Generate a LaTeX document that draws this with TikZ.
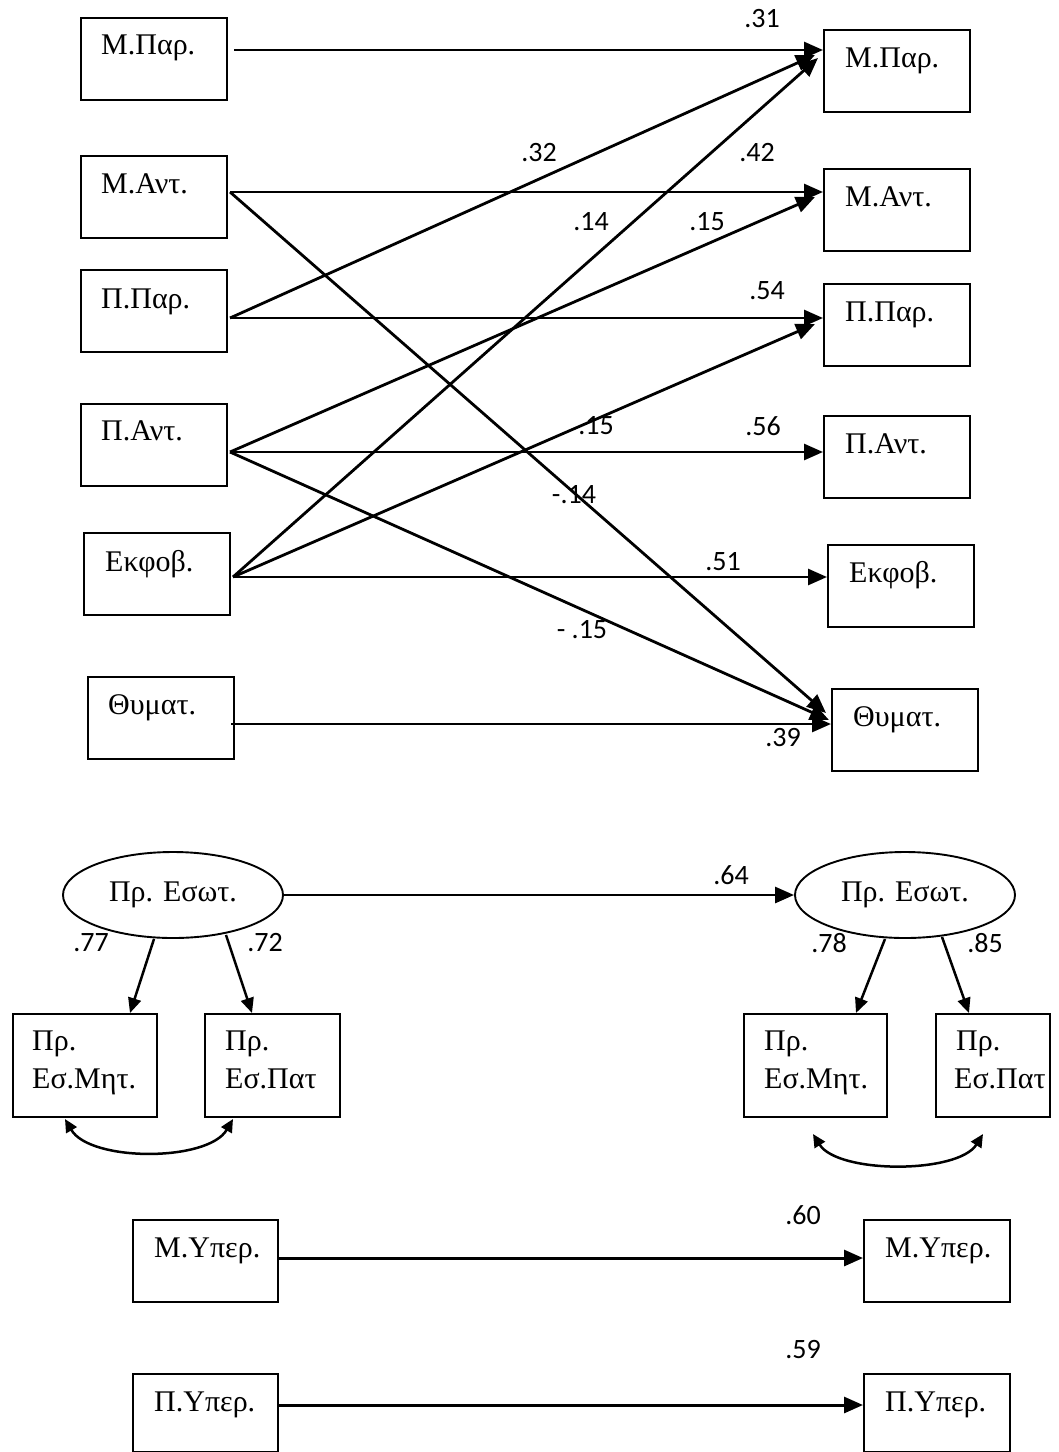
\documentclass[tikz,border=0pt]{standalone}
\usepackage{fontspec}
\setmainfont{Liberation Serif}
\newfontfamily\coeffont{Carlito}
\usetikzlibrary{arrows.meta,calc,shapes.geometric}
\begin{document}
\begin{tikzpicture}[x=1pt,y=-1pt,
  box/.style={draw, line width=2pt, inner sep=0pt, anchor=north west,
              minimum width=146pt, minimum height=82pt},
  tallbox/.style={box, minimum height=103pt},
  txt/.style={inner sep=0pt, anchor=base west, font=\fontsize{30}{35}\selectfont},
  coef/.style={inner sep=0pt, font=\coeffont\fontsize{28}{32}\selectfont},
  oval/.style={draw, ellipse, line width=1.9pt, inner sep=0pt,
               minimum width=220pt, minimum height=86pt,
               font=\fontsize{30}{35}\selectfont},
  link/.style={line width=2.8pt, -{Triangle[length=19pt,width=16pt]}},
  load/.style={line width=2.5pt, -{Triangle[length=15pt,width=13pt]}},
  covar/.style={line width=2.5pt,
                {Triangle[length=13pt,width=12pt]}-{Triangle[length=13pt,width=12pt]}}
]
\useasboundingbox (0,0) rectangle (1059,1452);
\fill[white] (0,0) rectangle (1059,1452);

% ---------- cross-lagged model: first wave (left) ----------
\node[box] (l1) at (80,17)  {};
\node[box] (l2) at (80,155) {};
\node[box] (l3) at (80,269) {};
\node[box] (l4) at (80,403) {};
\node[box] (l5) at (83,532) {};
\node[box] (l6) at (87,676) {};
\node[txt] (l1t) at ($(l1.north west)+(21,37)$) {Μ.Παρ.};
\node[txt] (l2t) at ($(l2.north west)+(21,38)$) {Μ.Αντ.};
\node[txt] (l3t) at ($(l3.north west)+(21,39)$) {Π.Παρ.};
\node[txt] (l4t) at ($(l4.north west)+(21,37)$) {Π.Αντ.};
\node[txt] (l5t) at ($(l5.north west)+(22,39)$) {Εκφοβ.};
\node[txt] (l6t) at ($(l6.north west)+(21,38)$) {Θυματ.};

% ---------- second wave (right) ----------
\node[box] (r1) at (823,29)  {};
\node[box] (r2) at (823,168) {};
\node[box] (r3) at (823,283) {};
\node[box] (r4) at (823,415) {};
\node[box] (r5) at (827,544) {};
\node[box] (r6) at (831,688) {};
\node[txt] (r1t) at ($(r1.north west)+(22,38)$) {Μ.Παρ.};
\node[txt] (r2t) at ($(r2.north west)+(22,38)$) {Μ.Αντ.};
\node[txt] (r3t) at ($(r3.north west)+(22,38)$) {Π.Παρ.};
\node[txt] (r4t) at ($(r4.north west)+(22,38)$) {Π.Αντ.};
\node[txt] (r5t) at ($(r5.north west)+(22,38)$) {Εκφοβ.};
\node[txt] (r6t) at ($(r6.north west)+(22,38)$) {Θυματ.};

% stability paths
\draw[link] ($(l1.north east)+(6,33)$)  -- ($(r1.north west)+(0,21)$);
\draw[link] ($(l2.north east)+(2,37)$)  -- ($(r2.north west)+(0,24)$);
\draw[link] ($(l3.north east)+(2,49)$)  -- ($(r3.north west)+(0,35)$);
\draw[link] ($(l4.north east)+(2,49)$)  -- ($(r4.north west)+(0,37)$);
\draw[link] ($(l5.north east)+(2,45)$)  -- ($(r5.north west)+(0,33)$);
\draw[link] ($(l6.north east)+(-4,48)$) -- ($(r6.north west)+(0,36)$);

% cross-lagged paths
\draw[link] ($(l3.north east)+(2,49)$) -- ($(r1.north west)+(-8,26)$);
\draw[link] ($(l5.north east)+(2,45)$) -- ($(r1.north west)+(-5,29)$);
\draw[link] ($(l4.north east)+(2,49)$) -- ($(r2.north west)+(-8,29)$);
\draw[link] ($(l5.north east)+(2,45)$) -- ($(r3.north west)+(-8,41)$);
\draw[link] ($(l2.north east)+(2,37)$) -- ($(r6.north west)+(-5,25)$);
\draw[link] ($(l4.north east)+(2,49)$) -- ($(r6.north west)+(-2,32)$);

% path coefficients
\node[coef] (c31) at (762,19)  {.31};
\node[coef] (c32) at (539,153) {.32};
\node[coef] (c42) at (757,153) {.42};
\node[coef] (c14) at (591,222) {.14};
\node[coef] (c15a) at (707,222) {.15};
\node[coef] (c54) at (767,291) {.54};
\node[coef] (c15b) at (596,426) {.15};
\node[coef] (c56) at (763,426) {.56};
\node[coef] (cm14) at (574,495) {-.14};
\node[coef] (c51) at (723,562) {.51};
\node[coef] (cm15) at (582,630) {- .15};
\node[coef] (c39) at (783,738) {.39};

% ---------- latent factor model ----------
\node[oval] (e1) at (173,895) {Πρ. Εσωτ.};
\node[oval] (e2) at (905,895) {Πρ. Εσωτ.};

\node[tallbox, minimum width=144pt] (b1) at (12,1013)  {};
\node[tallbox, minimum width=135pt] (b2) at (204,1013) {};
\node[tallbox, minimum width=143pt] (b3) at (743,1013) {};
\node[tallbox, minimum width=114pt] (b4) at (935,1013) {};
\node[txt] (b1a) at ($(b1.north west)+(20,37)$) {Πρ.};
\node[txt] (b1b) at ($(b1.north west)+(20,75)$) {Εσ.Μητ.};
\node[txt] (b2a) at ($(b2.north west)+(21,37)$) {Πρ.};
\node[txt] (b2b) at ($(b2.north west)+(21,75)$) {Εσ.Πατ};
\node[txt] (b3a) at ($(b3.north west)+(21,37)$) {Πρ.};
\node[txt] (b3b) at ($(b3.north west)+(21,75)$) {Εσ.Μητ.};
\node[txt] (b4a) at ($(b4.north west)+(21,37)$) {Πρ.};
\node[txt] (b4b) at ($(b4.north west)+(19,75)$) {Εσ.Πατ};

\draw[link] (e1.east) -- (e2.west);
\node[coef] (c64) at (731,875) {.64};

\draw[load] ($(e1.south)+(-19,0)$) -- ($(b1.north west)+(118,0)$);
\draw[load] ($(e1.south)+(53,-4)$) -- ($(b2.north west)+(48,0)$);
\draw[load] ($(e2.south)+(-20,0)$) -- ($(b3.north west)+(113,0)$);
\draw[load] ($(e2.south)+(37,-2)$) -- ($(b4.north west)+(34,0)$);
\node[coef] (c77) at (91,943)  {.77};
\node[coef] (c72) at (265,943) {.72};
\node[coef] (c78) at (829,943) {.78};
\node[coef] (c85) at (985,943) {.85};

% residual covariances
\draw[covar] ($(b1.south west)+(53,1)$) .. controls +(25,43) and +(-25,43) .. ($(b2.south west)+(29,1)$);
\draw[covar] ($(b3.south west)+(70,16)$) .. controls +(25,40) and +(-25,40) .. ($(b4.south west)+(48,16)$);

% ---------- over-involvement ----------
\node[box, minimum width=145pt] (m1) at (132,1219) {};
\node[box] (m2) at (863,1219) {};
\node[box, minimum width=145pt, minimum height=78pt] (p1) at (132,1373) {};
\node[box, minimum height=78pt] (p2) at (863,1373) {};
\node[txt] (m1t) at ($(m1.north west)+(22,38)$) {Μ.Υπερ.};
\node[txt] (m2t) at ($(m2.north west)+(22,38)$) {Μ.Υπερ.};
\node[txt] (p1t) at ($(p1.north west)+(22,38)$) {Π.Υπερ.};
\node[txt] (p2t) at ($(p2.north west)+(22,38)$) {Π.Υπερ.};
\draw[link, line width=3pt] ($(m1.north east)+(0,39)$) -- ($(m2.north west)+(0,39)$);
\draw[link, line width=3pt] ($(p1.north east)+(0,32)$) -- ($(p2.north west)+(0,32)$);
\node[coef] (c60) at (803,1215) {.60};
\node[coef] (c59) at (803,1350) {.59};
\end{tikzpicture}
\end{document}
